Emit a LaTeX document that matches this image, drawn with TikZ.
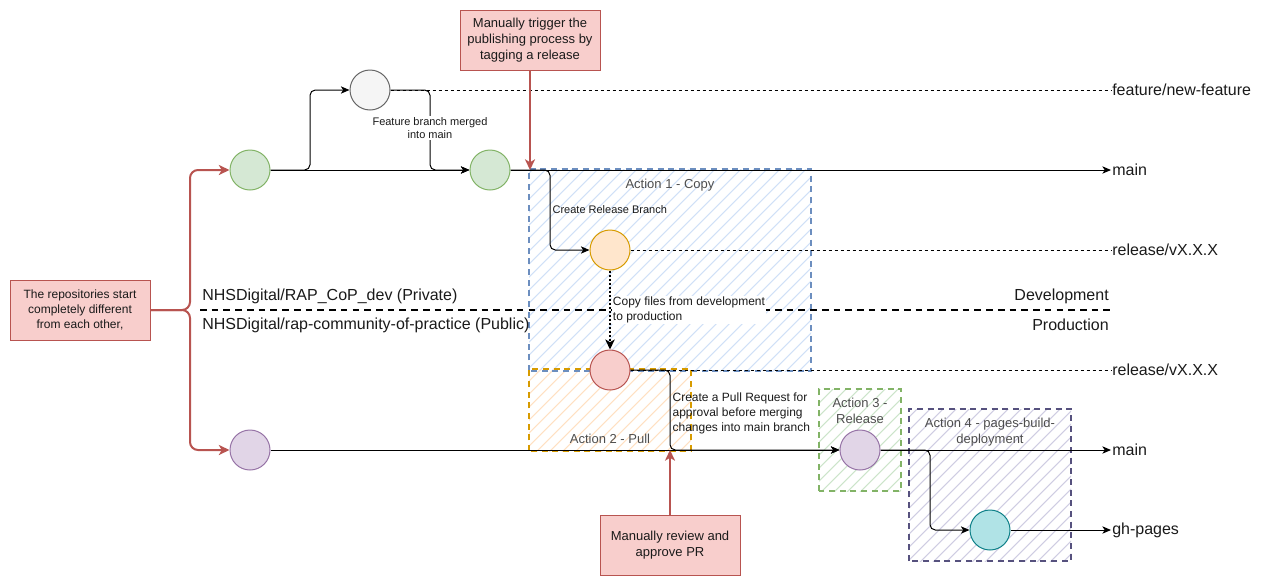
\documentclass[tikz,border=0pt]{standalone}
\usepackage{fontspec}
\setmainfont{Liberation Sans}
\usetikzlibrary{arrows.meta}
\definecolor{gF}{HTML}{D5E8D4}\definecolor{gD}{HTML}{82B366}
\definecolor{grF}{HTML}{F5F5F5}\definecolor{grD}{HTML}{666666}
\definecolor{oF}{HTML}{FFE6CC}\definecolor{oD}{HTML}{D79B00}
\definecolor{rF}{HTML}{F8CECC}\definecolor{rD}{HTML}{B85450}
\definecolor{pF}{HTML}{E1D5E7}\definecolor{pD}{HTML}{9673A6}
\definecolor{tF}{HTML}{B0E3E6}\definecolor{tD}{HTML}{0E8088}
\definecolor{bH}{HTML}{D0E0F7}\definecolor{bD}{HTML}{6C8EBF}
\definecolor{oH}{HTML}{FFE0C2}
\definecolor{gH}{HTML}{CCE4CA}
\definecolor{vH}{HTML}{CFCDE2}\definecolor{vD}{HTML}{56517E}
\definecolor{txt}{HTML}{1A1A1A}
\definecolor{ttl}{HTML}{4D4D4D}
\newcommand\fsA{\fontsize{12pt}{14.4pt}\selectfont}
\newcommand\fsB{\fontsize{9pt}{11.25pt}\selectfont}
\newcommand\fsC{\fontsize{8.25pt}{10.3pt}\selectfont}
\newcommand\fsD{\fontsize{9.75pt}{11.8pt}\selectfont}
\newcommand\fsT{\fontsize{9.75pt}{12.5pt}\selectfont}
\tikzset{
  commit/.style={circle, minimum size=30pt, inner sep=0pt, line width=0.75pt},
  flow/.style={line width=0.75pt, -{Stealth[length=6.5pt,width=5.5pt,inset=1.8pt]}},
  branch/.style={line width=0.75pt, dash pattern=on 2.25pt off 2.25pt},
  dotflow/.style={line width=1.5pt, dash pattern=on 1.5pt off 1.5pt, -{Stealth[length=7.5pt,width=7pt,inset=2pt]}},
  devline/.style={line width=1.3pt, dash pattern=on 5pt off 3.8pt},
  redflow/.style={draw=rD, line width=1.5pt, -{Stealth[length=8pt,width=7.5pt,inset=2.2pt]}},
  callout/.style={draw=rD, fill=rF, line width=0.75pt, minimum width=105pt, minimum height=45pt, align=center, font=\fsB, text=txt},
  actbox/.style={line width=1.5pt, dash pattern=on 4.5pt off 3.5pt, inner sep=0pt},
  acttitle/.style={font=\fsT, text=ttl, align=center, inner sep=1pt},
  lbl/.style={font=\fsA, text=txt, inner sep=0.75pt},
  elbl/.style={font=\fsC, text=txt, inner sep=1pt, align=left},
  hatchline/.style={line width=0.8pt},
}
\newcommand\hatchbox[2]{%
  \begin{scope}
    \clip (#1.south west) rectangle (#1.north east);
    \foreach \k in {-600,-587,...,1300} {\draw[hatchline, draw=#2] (\k,600) -- (\k+600,0);}
  \end{scope}}
\begin{document}
\begin{tikzpicture}[x=0.75pt,y=-0.75pt]
\useasboundingbox (0,0) rectangle (1281,586);

% action boxes (background)
\node[actbox, minimum width=210pt, minimum height=150pt] (a1) at (670,270) {};
\node[actbox, minimum width=120pt, minimum height=60pt] (a2) at (610,410) {};
\node[actbox, minimum width=60pt, minimum height=75pt] (a3) at (860,440) {};
\node[actbox, minimum width=120pt, minimum height=112.5pt] (a4) at (990,485) {};
\hatchbox{a1}{bH}
\hatchbox{a2}{oH}
\hatchbox{a3}{gH}
\hatchbox{a4}{vH}
\draw[actbox, draw=bD] (a1.south west) rectangle (a1.north east);
\draw[actbox, draw=oD] (a2.south west) rectangle (a2.north east);
\draw[actbox, draw=gD] (a3.south west) rectangle (a3.north east);
\draw[actbox, draw=vD] (a4.south west) rectangle (a4.north east);
\node[acttitle] (t1) at (670,185) {Action 1 - Copy};
\node[acttitle] (t2) at (610,439) {Action 2 - Pull};
\node[acttitle] (t3) at (860,411) {Action 3 -\\Release};
\node[acttitle] (t4) at (990,432) {Action 4 - pages-build-\\deployment};

% commits
\node[commit, draw=gD, fill=gF] (g1) at (250,170) {};
\node[commit, draw=grD, fill=grF] (gr) at (370,90) {};
\node[commit, draw=gD, fill=gF] (g2) at (490,170) {};
\node[commit, draw=oD, fill=oF] (or) at (610,250) {};
\node[commit, draw=rD, fill=rF] (rd) at (610,370) {};
\node[commit, draw=pD, fill=pF] (p1) at (250,450) {};
\node[commit, draw=pD, fill=pF] (p2) at (860,450) {};
\node[commit, draw=tD, fill=tF] (tl) at (990,530) {};

% branch labels
\node[lbl, anchor=west] (feat) at (1111,90) {feature/new-feature};
\node[lbl, anchor=west] (main1) at (1111,170) {main};
\node[lbl, anchor=west] (rel1) at (1111,250) {release/vX.X.X};
\node[lbl, anchor=west] (rel2) at (1111,370) {release/vX.X.X};
\node[lbl, anchor=west] (main2) at (1111,450) {main};
\node[lbl, anchor=west] (gh) at (1111,530) {gh-pages};

% dev / prod divider
\coordinate (dvL) at (200,310);
\coordinate (dvR) at (1110,310);
\draw[devline] (dvL) -- (dvR);
\node[lbl, anchor=west] (devrepo) at (201,296) {NHSDigital/RAP\_CoP\_dev (Private)};
\node[lbl, anchor=west] (prodrepo) at (201,325) {NHSDigital/rap-community-of-practice (Public)};
\node[lbl, anchor=east] (devl) at (1110,296) {Development};
\node[lbl, anchor=east] (prodl) at (1110,325) {Production};

% connectors
\draw[branch] (gr.east) -- (feat.west);
\draw[branch] (or.east) -- (rel1.west);
\draw[branch] (rd.east) -- (rel2.west);
\draw[flow] (g1.east) -- (g2.west);
\draw[flow, rounded corners=4pt] (g1.east) -- (310,170) -- (310,90) -- (gr.west);
\draw[flow, rounded corners=4pt] (gr.east) -- (430,90) -- (430,170) -- (g2.west);
\draw[flow] (g2.east) -- (main1.west);
\draw[flow, rounded corners=4pt] (g2.east) -- (550,170) -- (550,250) -- (or.west);
\draw[dotflow] (or.south) -- (rd.north);
\draw[flow, rounded corners=4pt] (rd.east) -- (670,370) -- (670,450) -- (p2.west);
\draw[flow] (p1.east) -- (p2.west);
\draw[flow] (p2.east) -- (main2.west);
\draw[flow, rounded corners=4pt] (p2.east) -- (930,450) -- (930,530) -- (tl.west);
\draw[flow] (tl.east) -- (gh.west);

% edge labels
\node[elbl, fill=white, align=center] (lfeat) at (430,128) {Feature branch merged\\into main};
\node[elbl, anchor=west] (lrel) at (551,210) {Create Release Branch};
\node[elbl, anchor=west, fill=white, font=\fsB, inner sep=0.5pt] (lcopy) at (612,310) {Copy files from development\\to production};
\node[elbl, anchor=west, font=\fsB] (lpr) at (671,413) {Create a Pull Request for\\approval before merging\\changes into main branch};

% callouts
\node[callout] (rep) at (80,310) {The repositories start\\completely different\\from each other,};
\node[callout, font=\fsD] (trig) at (530,40) {Manually trigger the\\publishing process by\\tagging a release};
\node[callout, font=\fsD] (rev) at (670,545) {Manually review and\\approve PR};
\coordinate (trigEnd) at (530,170);
\coordinate (revEnd) at (670,450);
\draw[redflow, rounded corners=6pt] (rep.east) -- (190,310) -- (190,170) -- (g1.west);
\draw[redflow, rounded corners=6pt] (rep.east) -- (190,310) -- (190,450) -- (p1.west);
\draw[redflow] (trig.south) -- (trigEnd);
\draw[redflow] (rev.north) -- (revEnd);
\end{tikzpicture}
\end{document}
